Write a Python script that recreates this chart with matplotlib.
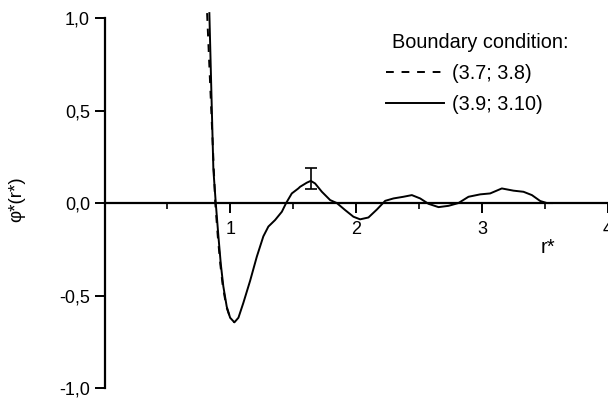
import numpy as np
from matplotlib import pyplot as plt
from matplotlib.ticker import FuncFormatter, MultipleLocator

plt.rcParams['font.family'] = ['Liberation Sans', 'DejaVu Sans']

# potential phi*(r*) for the two boundary conditions
r_solid = [0.833, 0.865, 0.884, 0.905, 0.924, 0.944, 0.971, 0.998, 1.032,
           1.064, 1.103, 1.157, 1.21, 1.262, 1.302, 1.355, 1.409, 1.443, 1.488,
           1.54, 1.554, 1.607, 1.639, 1.673, 1.727, 1.793, 1.846, 1.912, 1.978,
           2.031, 2.097, 2.164, 2.23, 2.296, 2.375, 2.442, 2.508, 2.574, 2.654,
           2.733, 2.812, 2.892, 2.985, 3.064, 3.157, 3.25, 3.329, 3.396, 3.462,
           3.515, 3.555]
phi_solid = [1.027, 0.18, 0.0, -0.18, -0.33, -0.45, -0.56, -0.62, -0.645,
             -0.62, -0.54, -0.42, -0.29, -0.18, -0.127, -0.092, -0.047, 0.0, 0.052,
             0.079, 0.088, 0.11, 0.12, 0.106, 0.061, 0.016, 0.0, -0.038, -0.074,
             -0.088, -0.078, -0.035, 0.012, 0.025, 0.034, 0.043, 0.025, -0.004, -0.022,
             -0.015, 0.0, 0.034, 0.047, 0.052, 0.079, 0.067, 0.061, 0.043, 0.011,
             0.0, 0.0]
r_dashed = [0.815, 0.88, 0.90, 0.92, 0.94, 0.968, 0.998, 1.032]
phi_dashed = [1.027, 0.0, -0.18, -0.33, -0.45, -0.56, -0.62, -0.645]

# error estimate at the first maximum
err_r = [1.639]
err_phi = [0.133]
err_size = [0.055]

labels = ['(3.7; 3.8)', '(3.9; 3.10)']

fig = plt.figure(figsize=(6.08, 3.98), dpi=100)
ax = fig.add_axes([0.1719, 0.0251, 0.828, 0.948])

ax.plot(r_dashed, phi_dashed, color='black', lw=1.4, ls=(0, (4, 4)), label=labels[0])
ax.plot(r_solid, phi_solid, color='black', lw=1.4, label=labels[1])
ax.errorbar(err_r, err_phi, yerr=err_size, fmt='none', ecolor='black', elinewidth=1.2,
            capsize=4, capthick=1.2)

ax.set_xlim(0, 4)
ax.set_ylim(-1.0, 1.04)

# axis cross style: x axis through zero, y axis only from -1 to 1
for side in ('top', 'right'):
    ax.spines[side].set_visible(False)
ax.spines['bottom'].set_position(('data', 0))
ax.spines['left'].set_bounds(-1, 1)
for side in ('bottom', 'left'):
    ax.spines[side].set_linewidth(1.6)

ax.xaxis.set_major_locator(MultipleLocator(1))
ax.xaxis.set_minor_locator(MultipleLocator(0.5))
ax.yaxis.set_major_locator(MultipleLocator(0.5))
ax.xaxis.set_major_formatter(FuncFormatter(lambda v, p: '' if v == 0 else f'{v:.0f}'))
ax.yaxis.set_major_formatter(FuncFormatter(lambda v, p: f'{v:.1f}'.replace('.', ',')))
ax.tick_params(axis='both', which='major', direction='out', length=7, width=1.4,
               labelsize=13)
ax.tick_params(axis='x', which='minor', direction='out', length=4, width=1.2)
ax.tick_params(axis='x', which='major', pad=6)

ax.set_ylabel('φ*(r*)', fontsize=13.5)
ax.yaxis.set_label_coords(-0.158, 0.5)
ax.text(3.52, -0.24, 'r*', fontsize=14.5, ha='center', va='center')

leg = ax.legend(title='Boundary condition:', loc='upper left', bbox_to_anchor=(0.559, 0.94),
                borderaxespad=0, borderpad=0, alignment='left',
                frameon=False, fontsize=14.3, title_fontsize=14.3, handlelength=2.9,
                handletextpad=0.45, labelspacing=0.6)
leg.get_title().set_position((6, 0))

fig.savefig('out.png', dpi=100)
